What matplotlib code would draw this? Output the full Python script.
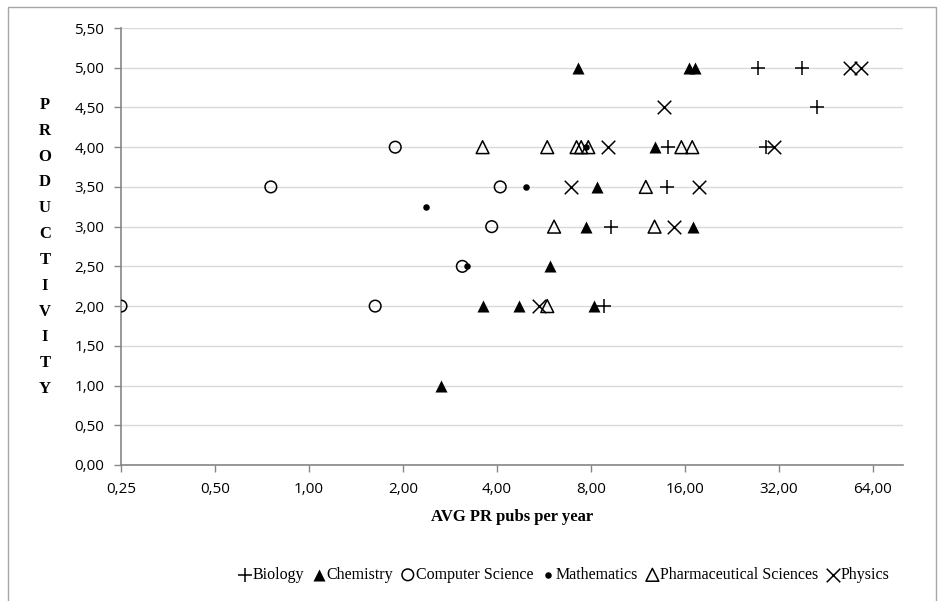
import matplotlib.pyplot as plt
from matplotlib.patches import Rectangle
from matplotlib.ticker import FixedLocator, FuncFormatter

# AVG PR pubs per year (x) and productivity (y) per field
bio_x = [27.5, 38.0, 42.4, 14.1, 29.2, 14.0, 9.3, 8.8]
bio_y = [5.0, 5.0, 4.5, 4.0, 4.0, 3.5, 3.0, 2.0]

chem_x = [7.3, 16.5, 17.2, 12.8, 8.4, 7.7, 17.0, 5.9, 3.6, 4.7, 8.2, 2.64]
chem_y = [5.0, 5.0, 5.0, 4.0, 3.5, 3.0, 3.0, 2.5, 2.0, 2.0, 2.0, 1.0]

cs_x = [0.25, 1.63, 0.755, 1.89, 4.1, 3.85, 3.1]
cs_y = [2.0, 2.0, 3.5, 4.0, 3.5, 3.0, 2.5]

math_x = [2.38, 4.95, 3.22, 7.7]
math_y = [3.25, 3.5, 2.5, 4.0]

pharm_x = [3.6, 5.8, 7.2, 7.45, 7.85, 15.6, 16.9, 12.0, 6.1, 12.8, 5.8]
pharm_y = [4.0, 4.0, 4.0, 4.0, 4.0, 4.0, 4.0, 3.5, 3.0, 3.0, 2.0]

phys_x = [54.0, 58.5, 13.7, 9.1, 31.0, 6.9, 17.7, 14.8, 5.45]
phys_y = [5.0, 5.0, 4.5, 4.0, 4.0, 3.5, 3.5, 3.0, 2.0]

x_ticks = [0.25, 0.5, 1, 2, 4, 8, 16, 32, 64]
y_ticks = [0, 0.5, 1, 1.5, 2, 2.5, 3, 3.5, 4, 4.5, 5, 5.5]

serif = 'Liberation Serif'
sans = 'Open Sans'

fig = plt.figure(figsize=(9.39, 6.01), dpi=100)
ax = fig.add_axes([121/939, 1 - 465/601, (903 - 121)/939, (465 - 28)/601])

# chart border
fig.patches.append(Rectangle((8/939, -0.05), 928/939, 1.05 - 7/601,
                             transform=fig.transFigure, fill=False,
                             edgecolor='#a6a6a6', linewidth=1))

ax.scatter(bio_x, bio_y, marker='+', s=110, c='black', linewidths=1.1,
           label='Biology', zorder=3)
ax.scatter(chem_x, chem_y, marker='^', s=75, c='black', linewidths=0,
           label='Chemistry', zorder=3)
ax.scatter(cs_x, cs_y, marker='o', s=70, facecolors='none',
           edgecolors='black', linewidths=1.1, label='Computer Science', zorder=3)
ax.scatter(math_x, math_y, marker='o', s=22, c='black', linewidths=0,
           label='Mathematics', zorder=3)
ax.scatter(pharm_x, pharm_y, marker='^', s=85, facecolors='none',
           edgecolors='black', linewidths=1.1,
           label='Pharmaceutical Sciences', zorder=3)
ax.scatter(phys_x, phys_y, marker='x', s=95, c='black', linewidths=1.1,
           label='Physics', zorder=3)

ax.set_xscale('log', base=2)
ax.set_xlim(0.25, 80)
ax.set_ylim(0, 5.5)
ax.xaxis.set_major_locator(FixedLocator(x_ticks))
ax.xaxis.set_minor_locator(FixedLocator([]))
ax.set_yticks(y_ticks)

comma = FuncFormatter(lambda v, p: f'{v:.2f}'.replace('.', ','))
ax.xaxis.set_major_formatter(comma)
ax.yaxis.set_major_formatter(comma)

for lab in ax.get_xticklabels() + ax.get_yticklabels():
    lab.set_fontfamily(sans)
    lab.set_fontsize(11)
ax.tick_params(axis='both', length=5, width=1, color='#868686', pad=7)

ax.grid(axis='y', color='#d9d9d9', linewidth=1)
ax.set_axisbelow(True)
for s in ['top', 'right']:
    ax.spines[s].set_visible(False)
for s in ['left', 'bottom']:
    ax.spines[s].set_color('#868686')
    ax.spines[s].set_linewidth(1.2)

ax.set_xlabel('AVG PR pubs per year', fontfamily=serif, fontweight='bold',
              fontsize=12, labelpad=9)

fig.text(45/939, 1 - 247/601, '\n'.join('PRODUCTIVITY'), ha='center',
         va='center', fontfamily=serif, fontweight='bold', fontsize=12,
         linespacing=1.82)

fig.legend(loc='center', bbox_to_anchor=(565/939, 1 - 575/601), ncol=6,
           frameon=False, prop={'family': serif, 'size': 11.5},
           handlelength=0.6, handletextpad=0.2, columnspacing=0.6,
           borderaxespad=0)

fig.savefig('out.png', dpi=100)
